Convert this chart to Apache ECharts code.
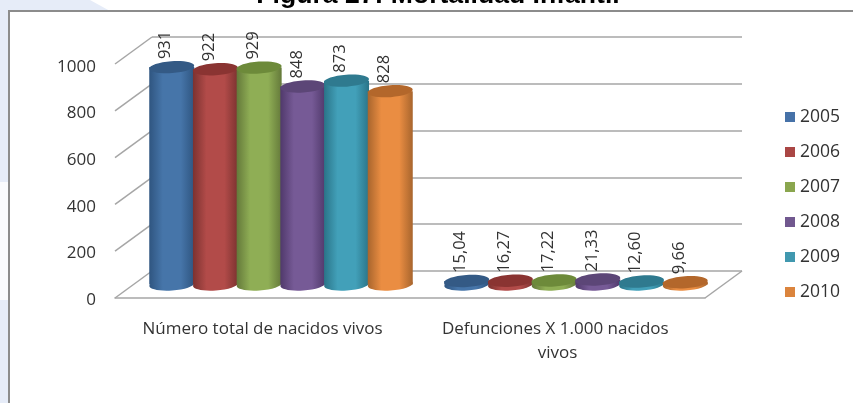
<!DOCTYPE html>
<html>
<head>
<meta charset="utf-8">
<style>
html, body { margin: 0; padding: 0; background: #fff; }
#chart { width: 853px; height: 403px; }
</style>
<script src="https://cdn.jsdelivr.net/npm/echarts@6/dist/echarts.min.js"></script>
</head>
<body>
<div id="chart"></div>
<script>
const categories = ['Número total de nacidos vivos', 'Defunciones X 1.000 nacidos vivos']
const years = ['2005', '2006', '2007', '2008', '2009', '2010']
const v2005 = [931, 15.04]
const v2006 = [922, 16.27]
const v2007 = [929, 17.22]
const v2008 = [848, 21.33]
const v2009 = [873, 12.60]
const v2010 = [828, 9.66]
const yTicks = [0, 200, 400, 600, 800, 1000]

const seriesValues = [v2005, v2006, v2007, v2008, v2009, v2010]
// legend, body, shade (edge), top of the cylinder
const colors = [
  ['#4672a8', '#4675a9', '#2f5580', '#345a85'],
  ['#aa4644', '#b24b49', '#7c3230', '#8a3432'],
  ['#8aa64e', '#8fae55', '#64793a', '#6d8a3a'],
  ['#71588f', '#765a96', '#50396b', '#5c4677'],
  ['#4198af', '#42a0b9', '#2a7488', '#2f7a8f'],
  ['#db843d', '#ea8d42', '#a8652d', '#b3672b']
]

const chart = echarts.init(document.getElementById('chart'))

// depth of the fake 3d box
const depthX = 37
const depthY = 27
const barStep = 43.7
const barW = 45
const ry = 6

function cylinder (i) {
  return function (params, api) {
    const idx = params.dataIndex
    const val = api.value(1)
    const p = api.coord([api.value(0), val])
    const p0 = api.coord([api.value(0), 0])
    const cx = p[0] + (i - 2.5) * barStep
    const c = colors[i]
    const fill = new echarts.graphic.LinearGradient(0, 0, 1, 0, [
      { offset: 0, color: c[2] },
      { offset: 0.3, color: c[1] },
      { offset: 0.7, color: c[1] },
      { offset: 1, color: c[2] }
    ])
    const rot = 4 * Math.PI / 180
    return {
      type: 'group',
      children: [
        { type: 'ellipse', shape: { cx: cx, cy: p0[1], rx: barW / 2, ry: ry }, rotation: rot, originX: cx, originY: p0[1], style: { fill: fill } },
        { type: 'rect', shape: { x: cx - barW / 2, y: p[1], width: barW, height: Math.max(p0[1] - p[1], 0) }, style: { fill: fill } },
        { type: 'ellipse', shape: { cx: cx, cy: p[1], rx: barW / 2, ry: ry }, rotation: rot, originX: cx, originY: p[1], style: { fill: c[3] } },
        {
          type: 'text',
          x: cx - 6,
          y: p[1] - 8,
          rotation: Math.PI / 2,
          style: {
            text: idx === 0 ? String(val) : val.toFixed(2).replace('.', ','),
            fill: '#333',
            font: '16.5px "Open Sans"',
            align: 'left',
            verticalAlign: 'middle'
          }
        }
      ]
    }
  }
}

const barSeries = years.map(function (y, i) {
  return {
    name: y,
    type: 'custom',
    xAxisIndex: 2,
    yAxisIndex: 2,
    z: 5,
    itemStyle: { color: colors[i][0] },
    encode: { x: 0, y: 1 },
    data: categories.map(function (cat, k) { return [k, seriesValues[i][k]] }),
    renderItem: cylinder(i)
  }
})

// slanted lines of the left wall, drawn from the back wall grid
const wallSeries = {
  type: 'custom',
  xAxisIndex: 0,
  yAxisIndex: 0,
  silent: true,
  z: 1,
  data: yTicks.map(function (t) { return [0, t] }),
  encode: { x: 0, y: 1 },
  renderItem: function (params, api) {
    const p = api.coord([0, api.value(1)])
    const x = params.coordSys.x
    return {
      type: 'line',
      shape: { x1: x, y1: p[1], x2: x - depthX, y2: p[1] + depthY },
      style: { stroke: '#a6a6a6', lineWidth: 1.5 }
    }
  }
}

const floorSeries = {
  type: 'custom',
  xAxisIndex: 0,
  yAxisIndex: 0,
  silent: true,
  z: 1,
  data: [[0, 0]],
  encode: { x: 0, y: 1 },
  renderItem: function (params, api) {
    const p = api.coord([0, 0])
    const x = params.coordSys.x + params.coordSys.width
    return {
      type: 'line',
      shape: { x1: x, y1: p[1], x2: x - depthX, y2: p[1] + depthY },
      style: { stroke: '#a6a6a6', lineWidth: 1.5 }
    }
  }
}

const option = {
  backgroundColor: '#fff',
  animation: false,
  title: {
    text: 'Figura 27: Mortalidad Infantil',
    left: 438,
    top: -18,
    padding: 0,
    textAlign: 'center',
    textStyle: { fontFamily: 'Liberation Sans', fontSize: 26.6, fontWeight: 'bold', color: '#000' }
  },
  legend: {
    orient: 'vertical',
    left: 780,
    top: 102,
    data: years,
    icon: 'rect',
    itemWidth: 10,
    itemHeight: 10,
    itemGap: 15,
    textStyle: { fontFamily: 'Open Sans', fontSize: 17.5, color: '#333', lineHeight: 20 }
  },
  // 0 back wall, 1 front plane with the labels, 2 middle plane with the bars
  grid: [
    { left: 152, right: 111, top: 37, height: 234 },
    { left: 115, right: 148, top: 65, height: 233 },
    { left: 133.5, right: 129.5, top: 51, height: 233.5 }
  ],
  xAxis: [
    { gridIndex: 0, type: 'value', min: 0, max: 1, show: false },
    {
      gridIndex: 1,
      type: 'category',
      data: categories,
      axisTick: { show: false },
      axisLine: { lineStyle: { color: '#a6a6a6', width: 1.5 } },
      axisLabel: {
        interval: 0,
        margin: 19,
        width: 250,
        overflow: 'break',
        lineHeight: 24,
        fontFamily: 'Open Sans',
        fontSize: 17,
        color: '#333'
      }
    },
    { gridIndex: 2, type: 'category', data: categories, show: false }
  ],
  yAxis: [
    {
      gridIndex: 0,
      type: 'value',
      min: 0,
      max: 1000,
      interval: 200,
      axisLabel: { show: false },
      axisLine: { show: false },
      axisTick: { show: false },
      splitLine: { lineStyle: { color: '#a6a6a6', width: 1.5 } }
    },
    {
      gridIndex: 1,
      type: 'value',
      min: 0,
      max: 1000,
      interval: 200,
      axisLine: { show: false },
      axisTick: { show: false },
      splitLine: { show: false },
      axisLabel: {
        margin: 19,
        verticalAlign: 'top',
        lineHeight: 4,
        fontFamily: 'Open Sans',
        fontSize: 17,
        color: '#333',
        formatter: function (v) { return String(v) }
      }
    },
    { gridIndex: 2, type: 'value', min: 0, max: 1000, show: false, splitLine: { show: false } }
  ],
  series: [wallSeries, floorSeries].concat(barSeries),
  graphic: [
    // page background behind the figure frame
    { type: 'rect', z: -10, shape: { x: 0, y: 0, width: 9, height: 403 }, style: { fill: '#e6ecf8' } },
    { type: 'rect', z: -10, shape: { x: 0, y: 182, width: 9, height: 118 }, style: { fill: '#fafbfd' } },
    { type: 'polygon', z: -10, shape: { points: [[0, 0], [90, 0], [110, 11], [0, 11]] }, style: { fill: '#e6ecf8' } },
    { type: 'polyline', z: -9, shape: { points: [[9, 403], [9, 11], [853, 11]] }, style: { fill: 'none', stroke: '#8c8c8c', lineWidth: 2 } }
  ]
}
chart.setOption(option)
</script>
</body>
</html>
